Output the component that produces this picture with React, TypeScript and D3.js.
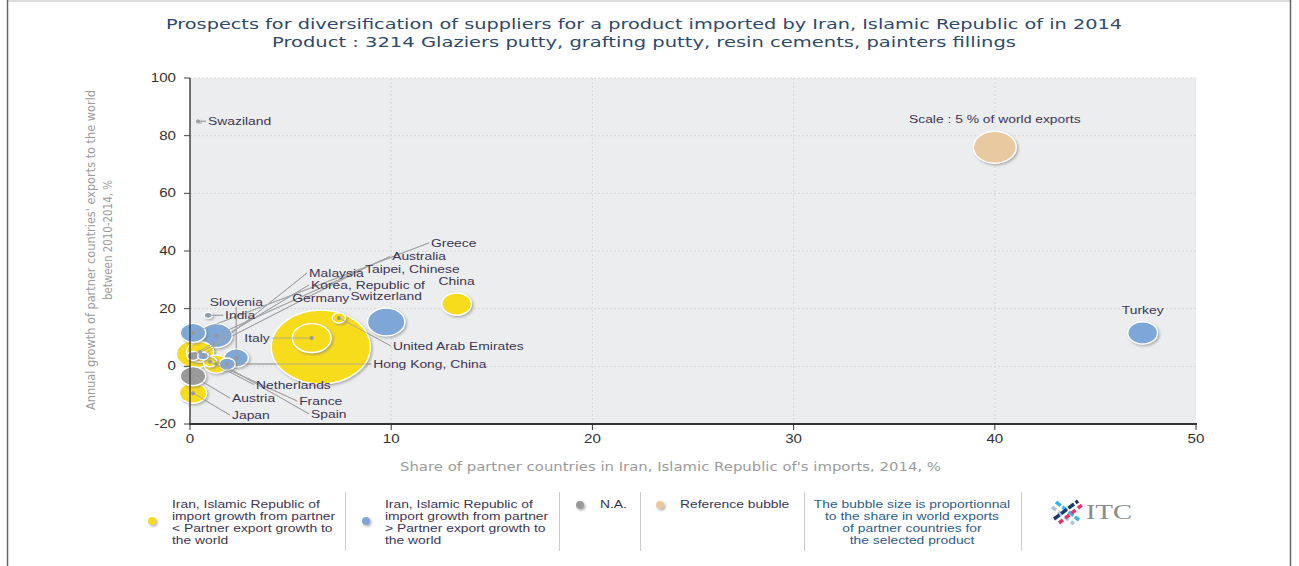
import * as d3 from "d3";

// partner countries
const countries = [
  "Germany", "Italy", "Switzerland", "China", "Turkey", "Korea, Republic of",
  "Australia", "Spain", "Greece", "Austria", "Japan", "France", "Slovenia",
  "Netherlands", "Hong Kong, China", "United Arab Emirates", "Malaysia",
  "Taipei, Chinese", "India", "Swaziland",
];
// share in Iran's imports, 2014, %
const importShare = [6.5, 6.05, 9.75, 13.25, 47.35, 0.25, 1.3, 0.5, 0.15, 0.15, 0.15, 1.3, 2.3, 1.0, 1.85, 7.4, 0.65, 0.15, 0.9, 0.4];
// annual growth of partner exports to the world 2010-2014, %
const exportGrowth = [6.7, 9.8, 15.4, 21.6, 11.6, 4.3, 10.7, 5.0, 11.6, -3.4, -9.3, 0.8, 2.9, 1.6, 0.8, 16.8, 3.6, 3.6, 17.7, 85];
// share in world exports, %  (bubble size)
const worldShare = [26.7, 4.1, 3.8, 2.4, 2.4, 3.8, 2.8, 2.0, 1.75, 1.75, 2.0, 1.6, 1.6, 0.5, 0.7, 0.5, 0.3, 0.4, 0.18, 0.04];
// lower: import growth < partner export growth, higher: >, na: N.A.
const growthGroup = [
  "lower", "lower", "higher", "lower", "higher", "lower", "higher", "lower",
  "higher", "na", "lower", "lower", "higher", "lower", "higher", "lower",
  "higher", "na", "higher", "na",
];

const referenceBubble = { label: "Scale : 5 % of world exports", x: 40, y: 76, size: 5 };

const xTicks = [0, 10, 20, 30, 40, 50];
const yTicks = [-20, 0, 20, 40, 60, 80, 100];

// label placement, pixels from the bubble centre
const labelLayout: Record<string, { dx: number; dy: number; anchor: string; line: boolean }> = {
  "Greece": { dx: 236, dy: -90, anchor: "start", line: true },
  "Australia": { dx: 174, dy: -79, anchor: "start", line: true },
  "Taipei, Chinese": { dx: 170, dy: -87, anchor: "start", line: true },
  "Malaysia": { dx: 104, dy: -83, anchor: "start", line: true },
  "Korea, Republic of": { dx: 114, dy: -69, anchor: "start", line: true },
  "Slovenia": { dx: 0, dy: -56, anchor: "middle", line: true },
  "India": { dx: 15, dy: 0, anchor: "start", line: true },
  "Italy": { dx: -40, dy: 0, anchor: "end", line: true },
  "United Arab Emirates": { dx: 52, dy: 28, anchor: "start", line: true },
  "Hong Kong, China": { dx: 144, dy: 0, anchor: "start", line: true },
  "Netherlands": { dx: 44, dy: 23, anchor: "start", line: true },
  "Austria": { dx: 37, dy: 22, anchor: "start", line: true },
  "France": { dx: 81, dy: 37, anchor: "start", line: true },
  "Spain": { dx: 109, dy: 62, anchor: "start", line: true },
  "Japan": { dx: 37, dy: 22, anchor: "start", line: true },
  "Swaziland": { dx: 8, dy: 0, anchor: "start", line: true },
};

const colors: Record<string, string> = {
  lower: "#f7dc1e",
  higher: "#7ea7d8",
  na: "#9a9a9a",
  ref: "#e8c9a0",
};

const W = 1299;
const H = 566;
const SX = 1.26;
const FONT = "'Liberation Sans', Arial, sans-serif";
const LABEL = "#3d3556";

const x = d3.scaleLinear().domain([0, 50]).range([190, 1196]);
const y = d3.scaleLinear().domain([-20, 100]).range([424, 78]);
const r = d3.scaleSqrt().domain([0, 5]).range([0, 16]);
const ASPECT = 1.34;

const T = ({ x, y, anchor = "start", size = 11, fill = LABEL, children }: any) => (
  <text
    transform={`translate(${x},${y}) scale(${SX},1)`}
    textAnchor={anchor}
    fontSize={size}
    fontFamily={FONT}
    fill={fill}
  >
    {children}
  </text>
);

const App = () => {
  const bubbles = countries
    .map((name, i) => ({
      name,
      cx: x(importShare[i]),
      cy: y(exportGrowth[i]),
      ry: r(worldShare[i]),
      rx: r(worldShare[i]) * ASPECT,
      color: colors[growthGroup[i]],
    }))
    .sort((a, b) => b.ry - a.ry);

  const ref = {
    cx: x(referenceBubble.x),
    cy: y(referenceBubble.y),
    ry: r(referenceBubble.size),
  };

  const legendLeft = [
    "Iran, Islamic Republic of",
    "import growth from partner",
    "< Partner export growth to",
    "the world",
  ];
  const legendRight = [
    "Iran, Islamic Republic of",
    "import growth from partner",
    "> Partner export growth to",
    "the world",
  ];
  const legendNote = [
    "The bubble size is proportionnal",
    "to the share in world exports",
    "of partner countries for",
    "the selected product",
  ];

  const leaderEnd = (b: any) => {
    const l = labelLayout[b.name];
    return [b.cx + l.dx, l.anchor === "middle" ? b.cy + l.dy + 5 : b.cy + l.dy];
  };

  return (
    <svg width={W} height={H} style={{ position: "absolute", left: 0, top: 0, background: "#fff" }}>
      <defs>
        <filter id="shadow" x="-30%" y="-30%" width="170%" height="170%">
          <feDropShadow dx="1.5" dy="1.5" stdDeviation="1" floodColor="#777" floodOpacity="0.55" />
        </filter>
      </defs>

      {/* frame */}
      <line x1={7} x2={1291} y1={1} y2={1} stroke="#bbb" />
      <line x1={7.5} x2={7.5} y1={0} y2={H} stroke="#666" strokeWidth={1.5} />
      <line x1={1290.5} x2={1290.5} y1={0} y2={H} stroke="#666" strokeWidth={1.5} />

      {/* title */}
      <text x={166} y={29} fontSize={14} fontFamily="'DejaVu Sans', sans-serif" fill="#2f4a6b"
        textLength={956} lengthAdjust="spacingAndGlyphs">
        Prospects for diversification of suppliers for a product imported by Iran, Islamic Republic of in 2014
      </text>
      <text x={272} y={47} fontSize={14} fontFamily="'DejaVu Sans', sans-serif" fill="#2f4a6b"
        textLength={744} lengthAdjust="spacingAndGlyphs">
        Product : 3214 Glaziers putty, grafting putty, resin cements, painters fillings
      </text>

      {/* plot area */}
      <rect x={x(0)} y={y(100)} width={x(50) - x(0)} height={y(-20) - y(100)} fill="#ecedee" />
      {yTicks.filter((t) => t > -20).map((t) => (
        <line key={"gy" + t} x1={x(0)} x2={x(50)} y1={y(t)} y2={y(t)} stroke="#d6d8da" strokeDasharray="2,2" />
      ))}
      {xTicks.filter((t) => t > 0 && t < 50).map((t) => (
        <line key={"gx" + t} x1={x(t)} x2={x(t)} y1={y(100)} y2={y(-20)} stroke="#d6d8da" strokeDasharray="2,2" />
      ))}

      {/* leader lines */}
      {bubbles.map((b) => {
        if (!labelLayout[b.name]) return null;
        const [ex, ey] = leaderEnd(b);
        return <line key={"ll" + b.name} x1={b.cx} y1={b.cy} x2={ex} y2={ey} stroke="#a3a3a3" />;
      })}

      {/* bubbles */}
      {bubbles.map((b) => (
        <ellipse key={b.name} cx={b.cx} cy={b.cy} rx={b.rx} ry={b.ry} fill={b.color}
          stroke="#fff" strokeWidth={1.4} filter="url(#shadow)" />
      ))}
      <ellipse cx={ref.cx} cy={ref.cy} rx={ref.ry * ASPECT} ry={ref.ry} fill={colors.ref}
        stroke="#fff" strokeWidth={1.4} filter="url(#shadow)" />

      {/* leader lines over bubbles, with centre dots */}
      {bubbles.map((b) => {
        if (!labelLayout[b.name]) return null;
        const [ex, ey] = leaderEnd(b);
        return (
          <g key={"lo" + b.name}>
            <line x1={b.cx} y1={b.cy} x2={ex} y2={ey} stroke="#a3a3a3" strokeOpacity={0.8} />
            <circle cx={b.cx} cy={b.cy} r={2} fill="#999" />
          </g>
        );
      })}

      {/* labels */}
      {bubbles.map((b) => {
        const l = labelLayout[b.name];
        if (l) {
          const pad = l.anchor === "start" ? 2 : l.anchor === "end" ? -2 : 0;
          return (
            <T key={"lb" + b.name} x={b.cx + l.dx + pad} y={b.cy + l.dy + 4} anchor={l.anchor}>
              {b.name}
            </T>
          );
        }
        return (
          <T key={"lb" + b.name} x={b.cx} y={b.cy - b.ry - 8} anchor="middle">
            {b.name}
          </T>
        );
      })}
      <T x={ref.cx} y={ref.cy - ref.ry - 8} anchor="middle">{referenceBubble.label}</T>

      {/* axes */}
      <line x1={x(0)} x2={x(0)} y1={y(100)} y2={y(-20)} stroke="#444" strokeWidth={1.5} />
      <line x1={x(0) - 1} x2={x(50) + 1} y1={y(-20)} y2={y(-20)} stroke="#333" strokeWidth={2} />
      {yTicks.map((t) => (
        <g key={"yt" + t}>
          <line x1={x(0) - 6} x2={x(0)} y1={y(t)} y2={y(t)} stroke="#444" />
          <T x={x(0) - 14} y={y(t) + 4} anchor="end" size={12} fill="#333">{t}</T>
        </g>
      ))}
      {xTicks.map((t) => (
        <g key={"xt" + t}>
          <line x1={x(t)} x2={x(t)} y1={y(-20)} y2={y(-20) + 6} stroke="#333" />
          <T x={x(t)} y={y(-20) + 19} anchor="middle" size={12} fill="#333">{t}</T>
        </g>
      ))}

      {/* axis titles */}
      <text x={400} y={471} fontSize={12} fontFamily="'DejaVu Sans', sans-serif" fill="#9b9b9b"
        textLength={541} lengthAdjust="spacingAndGlyphs">
        Share of partner countries in Iran, Islamic Republic of's imports, 2014, %
      </text>
      <text transform="translate(95,410) rotate(-90)" fontSize={12}
        fontFamily="'DejaVu Sans', sans-serif" fill="#9b9b9b" textLength={320} lengthAdjust="spacingAndGlyphs">
        Annual growth of partner countries' exports to the world
      </text>
      <text transform="translate(112,300) rotate(-90)" fontSize={12}
        fontFamily="'DejaVu Sans', sans-serif" fill="#9b9b9b" textLength={120} lengthAdjust="spacingAndGlyphs">
        between 2010-2014, %
      </text>

      {/* legend */}
      <circle cx={152} cy={521} r={4} fill={colors.lower} filter="url(#shadow)" />
      {legendLeft.map((s, i) => (
        <T key={"gl" + i} x={172} y={508 + i * 12}>{s}</T>
      ))}
      <line x1={345.5} x2={345.5} y1={492} y2={551} stroke="#ccc" />
      <circle cx={366} cy={521} r={4} fill={colors.higher} filter="url(#shadow)" />
      {legendRight.map((s, i) => (
        <T key={"gr" + i} x={385} y={508 + i * 12}>{s}</T>
      ))}
      <line x1={559.5} x2={559.5} y1={492} y2={551} stroke="#ccc" />
      <circle cx={580} cy={505} r={4} fill={colors.na} filter="url(#shadow)" />
      <T x={600} y={508}>N.A.</T>
      <line x1={640.5} x2={640.5} y1={492} y2={551} stroke="#ccc" />
      <circle cx={660} cy={505} r={4} fill={colors.ref} filter="url(#shadow)" />
      <T x={680} y={508}>Reference bubble</T>
      <line x1={804.5} x2={804.5} y1={492} y2={551} stroke="#ccc" />
      {legendNote.map((s, i) => (
        <T key={"gn" + i} x={912} y={508 + i * 12} anchor="middle" fill="#2e5c8a">{s}</T>
      ))}
      <line x1={1021.5} x2={1021.5} y1={492} y2={551} stroke="#ccc" />

      {/* ITC logo */}
      <g strokeWidth={3.5} strokeLinecap="butt">
        <line x1={1056} y1={502} x2={1079} y2={520} stroke="#3bb4e5" strokeDasharray="6,2" />
        <line x1={1052} y1={507} x2={1074} y2={524} stroke="#a9c4dd" strokeDasharray="5,3" />
        <line x1={1054} y1={519} x2={1078} y2={501} stroke="#1e3a66" strokeDasharray="7,2" />
        <line x1={1059} y1={523} x2={1082} y2={505} stroke="#e8336d" strokeDasharray="5,3" />
      </g>
      <text x={1086} y={519} fontSize={20} fontFamily="'Liberation Serif', serif" fill="#8a8a8a"
        textLength={46} lengthAdjust="spacingAndGlyphs">
        ITC
      </text>
    </svg>
  );
};

export default App;
